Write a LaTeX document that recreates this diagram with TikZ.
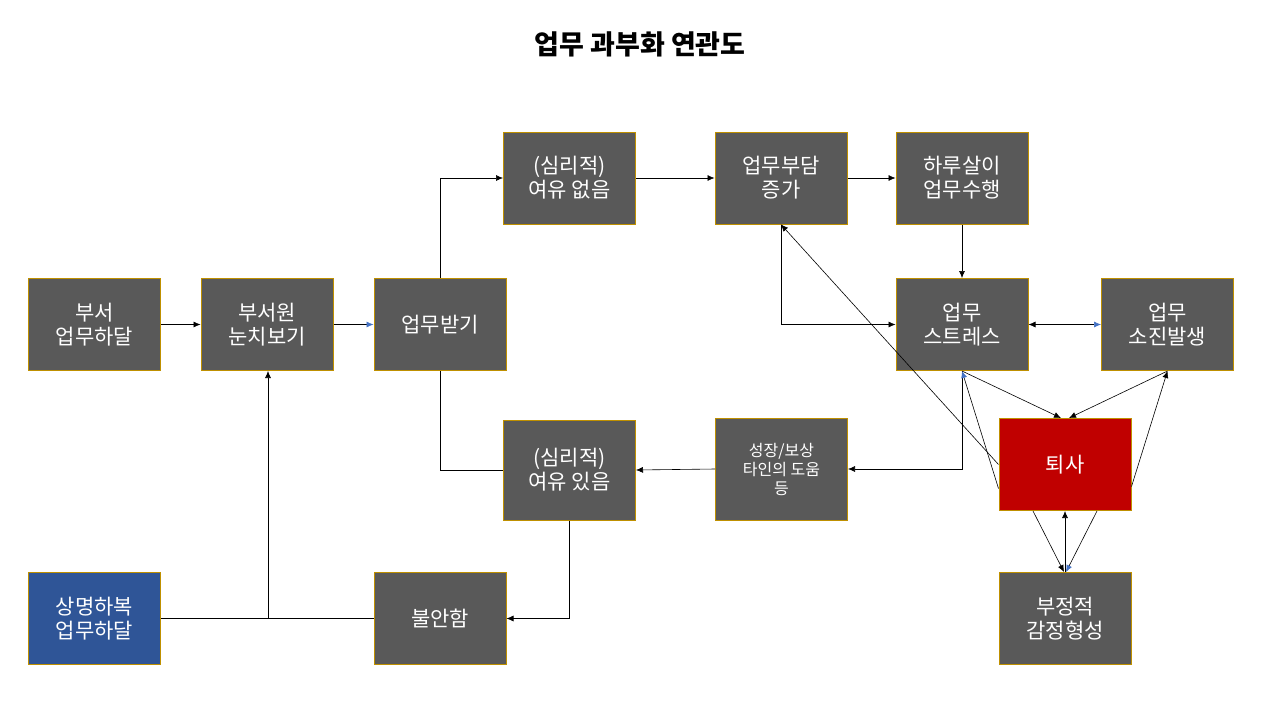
\documentclass[tikz,border=0pt]{standalone}
\usepackage{fontspec}
\setmainfont{Noto Sans CJK KR}
\usetikzlibrary{arrows.meta}
\definecolor{boxg}{HTML}{595959}
\definecolor{edge}{HTML}{BF9000}
\definecolor{rd}{HTML}{C00000}
\definecolor{bl}{HTML}{2F5597}
\definecolor{ab}{HTML}{4472C4}
\begin{document}
\begin{tikzpicture}[x=1pt,y=-1pt,
  bx/.style={draw=edge,fill=boxg,text=white,minimum width=132pt,minimum height=92pt,inner sep=2pt,font=\fontsize{21}{24}\selectfont,align=center,line width=1pt},
  ar/.style={-{Latex[length=7pt,width=6pt]},line width=0.6pt},
  ln/.style={line width=0.6pt}]
\useasboundingbox (0,0) rectangle (1280,710);
\node[font=\bfseries\fontsize{27}{30}\selectfont] (title) at (640,44) {업무 과부화 연관도};
\node[bx] (a) at (94.5,324.5) {부서\\업무하달};
\node[bx] (b) at (267,324.5) {부서원\\눈치보기};
\node[bx] (c) at (440,324.5) {업무받기};
\node[bx] (d) at (569.5,178) {(심리적)\\여유 없음};
\node[bx] (e) at (781,178) {업무부담\\증가};
\node[bx] (f) at (962,178) {하루살이\\업무수행};
\node[bx] (g) at (962,324.5) {업무\\스트레스};
\node[bx] (h) at (1167.5,324.5) {업무\\소진발생};
\node[bx,fill=rd] (q) at (1065,464.5) {퇴사};
\node[bx] (n) at (1065,618.5) {부정적\\감정형성};
\node[bx,minimum height=102pt,font=\fontsize{16}{19}\selectfont] (s) at (781.5,469) {성장/보상\\타인의 도움\\등};
\node[bx,minimum height=100pt] (r) at (569.5,470) {(심리적)\\여유 있음};
\node[bx] (u) at (440,618.5) {불안함};
\node[bx,fill=bl] (m) at (94.5,618.5) {상명하복\\업무하달};
\draw[ar] (a) -- (b);
\draw[ar,-{Latex[length=7pt,width=6pt,color=ab]}] (b) -- (c);
\draw[ar] (c.north) |- (d.west);
\draw[ar] (d) -- (e);
\draw[ar] (e) -- (f);
\draw[ar] (f) -- (g);
\draw[ar] (e.south) |- (g.west);
\draw[ar,{Latex[length=7pt,width=6pt]}-{Latex[length=7pt,width=6pt,color=ab]}] (g) -- (h);
\draw[ln] (c.south) |- (r.west);
\draw[ar] (s.west) -- (r.east);
\draw[ar] (r.south) |- (u.east);
\draw[ln] (m.east) -- (u.west);
\coordinate (j) at (268,618.5);
\draw[ar] (j) -- (b.south -| j);
\draw[ar] (g.south) |- (s.east);
\draw[ar] (g.south) -- ([xshift=-4pt]q.north);
\draw[ar] (h.south) -- ([xshift=4pt]q.north);
\draw[ar,-{Latex[length=7pt,width=6pt,color=ab]}] ([yshift=-24pt]q.west) -- (g.south);
\draw[ar] ([yshift=-22pt]q.east) -- (h.south);
\draw[ar] (q.west) -- (e.south);
\draw[ar] ([xshift=-32pt]q.south) -- ([xshift=-1pt]n.north);
\draw[ar] (n.north) -- (q.south);
\draw[ar,-{Latex[length=7pt,width=6pt,color=ab]}] ([xshift=32pt]q.south) -- ([xshift=1pt]n.north);
\end{tikzpicture}
\end{document}
